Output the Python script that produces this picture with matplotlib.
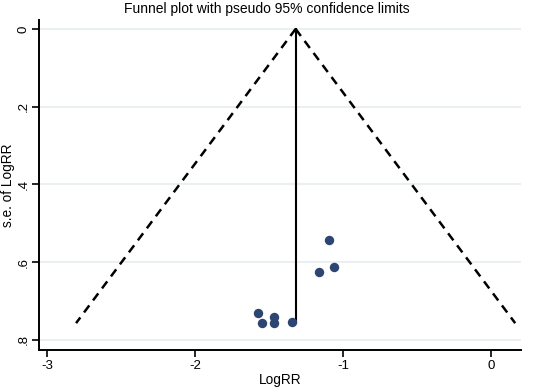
import numpy as np
import matplotlib.pyplot as plt

plt.rcParams['font.family'] = ['Liberation Sans', 'DejaVu Sans']

# study estimates (log risk ratio) and their standard errors
log_rr = [-1.093, -1.063, -1.160, -1.572, -1.547, -1.464, -1.464, -1.345]
se_log_rr = [0.543, 0.612, 0.625, 0.731, 0.757, 0.740, 0.757, 0.755]

pooled = -1.32
se_max = 0.757

x_ticks = [-3, -2, -1, 0]
x_tick_labels = ["-3", "-2", "-1", "0"]
y_ticks = [0, 0.2, 0.4, 0.6, 0.8]
y_tick_labels = ["0", ".2", ".4", ".6", ".8"]

fig = plt.figure(figsize=(5.33, 3.9), dpi=100)
ax = fig.add_axes([0.0732, 0.1026, 0.9043, 0.8461])

for y in y_ticks:
    ax.axhline(y, color="#e6eef0", lw=1.2, zorder=0)

# pseudo 95% confidence limits
se_line = np.array([0, se_max])
ax.plot(pooled - 1.96 * se_line, se_line, color="black", lw=1.8,
        ls=(0, (3.5, 2.5)))
ax.plot(pooled + 1.96 * se_line, se_line, color="black", lw=1.8,
        ls=(0, (3.5, 2.5)))
ax.plot([pooled, pooled], se_line, color="black", lw=1.5)

ax.scatter(log_rr, se_log_rr, s=46, color="#2c4571", zorder=3, linewidths=0)

ax.set_xlim(-3.054, 0.203)
ax.set_ylim(0.826, -0.023)
ax.set_xticks(x_ticks, x_tick_labels)
ax.set_yticks(y_ticks, y_tick_labels)
for lbl in ax.get_yticklabels():
    lbl.set_rotation(90)
    lbl.set_va("center")

ax.spines["top"].set_visible(False)
ax.spines["right"].set_visible(False)
for s in ("left", "bottom"):
    ax.spines[s].set_linewidth(1.4)
ax.tick_params(length=5, width=1.2, labelsize=9.5, pad=2)

ax.set_xlabel("LogRR", fontsize=9.8, labelpad=1)
ax.set_ylabel("s.e. of LogRR", fontsize=9.8, labelpad=2)
ax.set_title("Funnel plot with pseudo 95% confidence limits", fontsize=10,
             pad=5, x=0.472)

fig.savefig("out.png", dpi=100)
